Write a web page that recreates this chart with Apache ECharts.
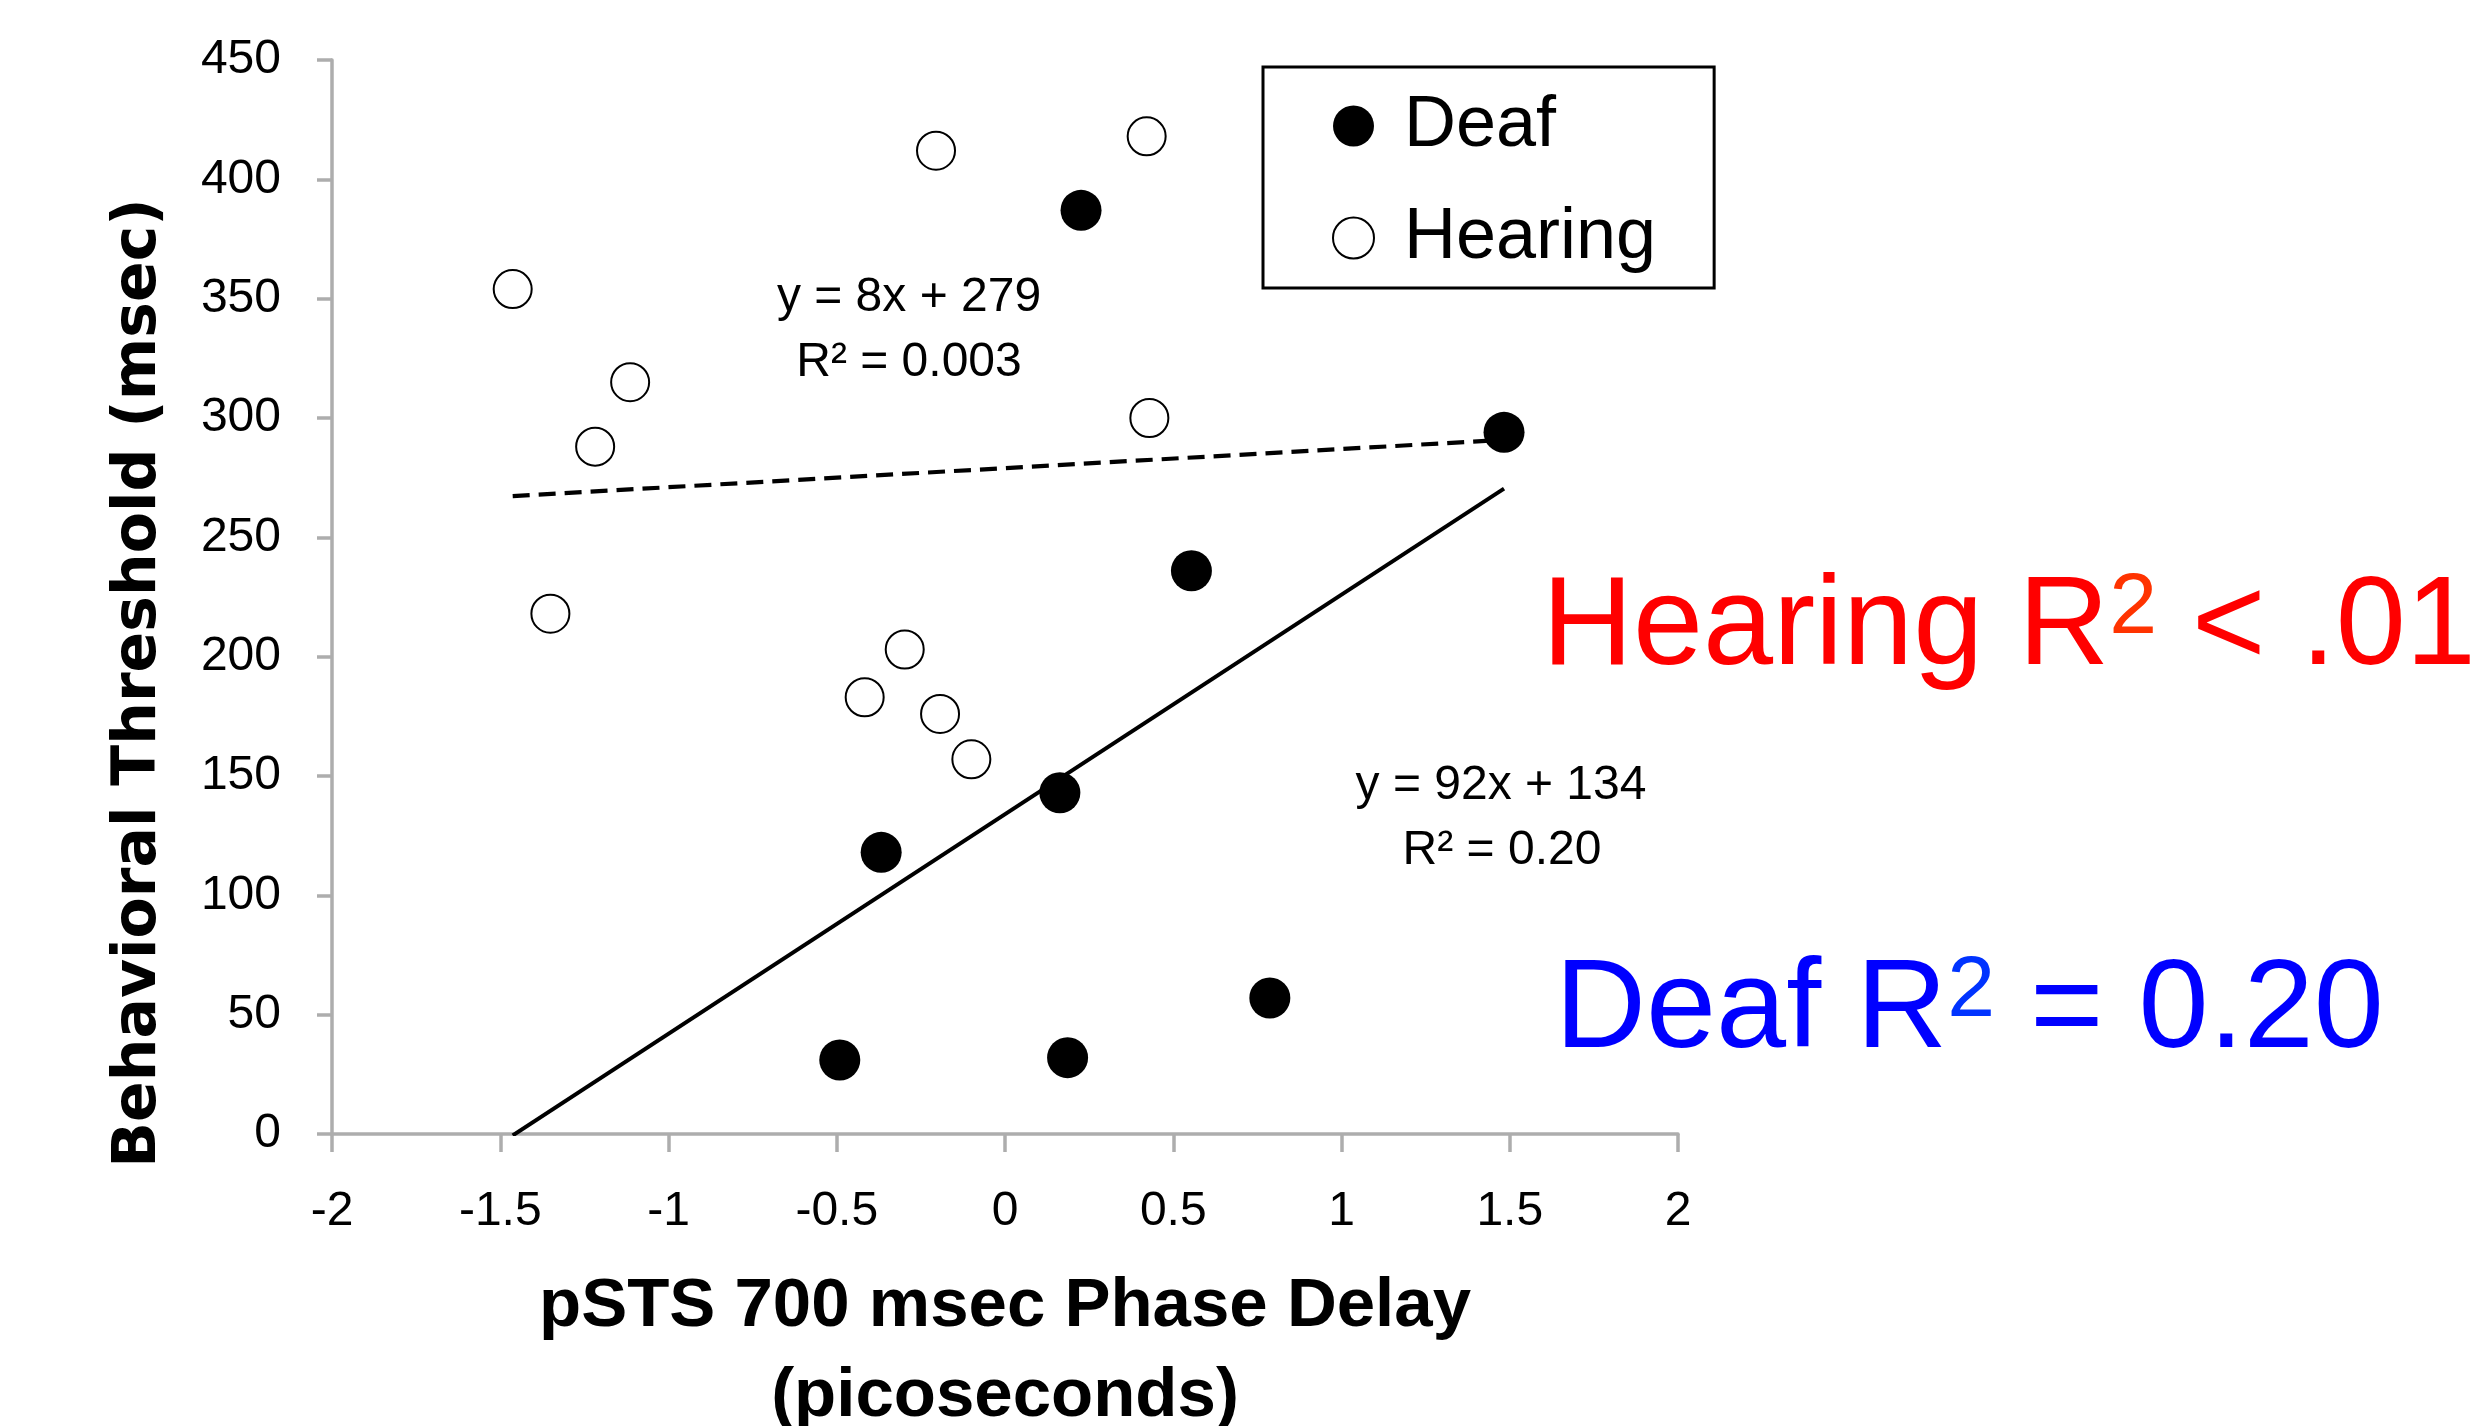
<!DOCTYPE html>
<html><head><meta charset="utf-8">
<script src="https://cdn.jsdelivr.net/npm/echarts@6/dist/echarts.min.js"></script>
<style>html,body{margin:0;padding:0;background:#fff;overflow:hidden}#c{width:2476px;height:1426px}</style>
</head><body><div id="c"></div>
<script>
// ---- data ----
const hearingX = [-1.463, -1.114, -1.218, -1.351, -0.205, 0.421, 0.429, -0.298, -0.417, -0.193, -0.100];
const hearingY = [354, 315, 288, 218, 412, 418, 300, 203, 183, 176, 157];
const deafX = [0.226, 1.483, 0.554, 0.163, -0.368, -0.491, 0.186, 0.787];
const deafY = [387, 294, 236, 143, 118, 31, 32, 57];
// regression lines (slope, intercept) as printed in the chart
const hearingFit = [8, 279];
const deafFit = [92, 134];
const xAxisRange = [-2, 2, 0.5];
const yAxisRange = [0, 450, 50];
const seriesNames = ['Deaf', 'Hearing'];

const allX = hearingX.concat(deafX);
const xLo = Math.min.apply(null, allX), xHi = Math.max.apply(null, allX);
function fitLine(f) { return [[xLo, f[0] * xLo + f[1]], [xHi, f[0] * xHi + f[1]]]; }

const LIB = '"Liberation Sans", Arial, sans-serif';
const AX = '#adadad';
const chart = echarts.init(document.getElementById('c'), null, {renderer: 'canvas'});
chart.setOption({
  animation: false,
  backgroundColor: '#fff',
  grid: {left: 332, top: 60, width: 1346, height: 1074, containLabel: false, outerBoundsMode: 'none'},
  xAxis: {
    type: 'value', min: xAxisRange[0], max: xAxisRange[1], interval: xAxisRange[2],
    name: 'pSTS 700 msec Phase Delay\n(picoseconds)',
    nameLocation: 'middle', nameGap: 128,
    nameTextStyle: {fontFamily: LIB, fontWeight: 'bold', fontSize: 69, color: '#000', lineHeight: 90},
    axisLine: {show: true, onZero: false, lineStyle: {color: AX, width: 3.5}},
    axisTick: {show: true, length: 18, lineStyle: {color: AX, width: 3.5}},
    axisLabel: {fontFamily: LIB, fontSize: 48, color: '#000', margin: 54},
    splitLine: {show: false}
  },
  yAxis: {
    type: 'value', min: yAxisRange[0], max: yAxisRange[1], interval: yAxisRange[2],
    name: 'Behavioral Threshold (msec)',
    nameLocation: 'middle', nameGap: 158, nameRotate: 90,
    nameTextStyle: {fontFamily: '"DejaVu Sans", sans-serif', fontWeight: 'bold', fontSize: 60, color: '#000', lineHeight: 70, padding: [0, 172, 0, 0]},
    axisLine: {show: true, onZero: false, lineStyle: {color: AX, width: 3.5}},
    axisTick: {show: true, length: 15, lineStyle: {color: AX, width: 3.5}},
    axisLabel: {fontFamily: LIB, fontSize: 48, color: '#000', margin: 51, padding: [8, 0, 0, 0]},
    splitLine: {show: false}
  },
  legend: {
    data: seriesNames,
    orient: 'vertical', left: 1263, top: 67,
    padding: [19, 58, 10, 69],
    itemWidth: 41, itemHeight: 41, itemGap: 32,
    borderColor: '#000', borderWidth: 3, backgroundColor: '#fff',
    textStyle: {fontFamily: LIB, fontSize: 72, color: '#000', lineHeight: 80, padding: [0, 0, 0, 25]}
  },
  series: [
    {name: seriesNames[0], type: 'scatter', symbol: 'circle', symbolSize: 41,
     itemStyle: {color: '#000', opacity: 1}, z: 4,
     data: deafX.map((x, i) => [x, deafY[i]])},
    {name: seriesNames[1], type: 'scatter', symbol: 'emptyCircle', symbolSize: 38,
     itemStyle: {color: '#000', borderWidth: 2.8, opacity: 1}, z: 4,
     data: hearingX.map((x, i) => [x, hearingY[i]])},
    {name: 'Hearing fit', type: 'line', symbol: 'none', silent: true, clip: true, z: 3,
     lineStyle: {color: '#000', width: 4.2, type: [17, 9]}, data: fitLine(hearingFit)},
    {name: 'Deaf fit', type: 'line', symbol: 'none', silent: true, clip: true, z: 3,
     lineStyle: {color: '#000', width: 4}, data: fitLine(deafFit)}
  ],
  graphic: [
    {type: 'text', x: 909, y: 298, style: {text: 'y = ' + hearingFit[0] + 'x + ' + hearingFit[1], font: '48px ' + LIB, fill: '#000', align: 'center', verticalAlign: 'middle'}},
    {type: 'text', x: 909, y: 363, style: {text: 'R² = 0.003', font: '48px ' + LIB, fill: '#000', align: 'center', verticalAlign: 'middle'}},
    {type: 'text', x: 1501, y: 786, style: {text: 'y = ' + deafFit[0] + 'x + ' + deafFit[1], font: '48px ' + LIB, fill: '#000', align: 'center', verticalAlign: 'middle'}},
    {type: 'text', x: 1502, y: 851, style: {text: 'R² = 0.20', font: '48px ' + LIB, fill: '#000', align: 'center', verticalAlign: 'middle'}},
    {type: 'text', x: 1542, y: 629, style: {
      text: '{a|Hearing R}{s|2}{a| < .01}', align: 'left', verticalAlign: 'middle',
      rich: {a: {fontFamily: LIB, fontSize: 126, lineHeight: 126, fill: '#ff0000', color: '#ff0000'},
             s: {fontFamily: LIB, fontSize: 86, lineHeight: 82, verticalAlign: 'top', fill: '#ff3300', color: '#ff3300'}}}},
    {type: 'text', x: 1555, y: 1012, style: {
      text: '{a|Deaf R}{s|2}{a| = 0.20}', align: 'left', verticalAlign: 'middle',
      rich: {a: {fontFamily: LIB, fontSize: 126, lineHeight: 126, fill: '#0000ff', color: '#0000ff'},
             s: {fontFamily: LIB, fontSize: 86, lineHeight: 82, verticalAlign: 'top', fill: '#0033ff', color: '#0033ff'}}}}
  ]
});
</script></body></html>
